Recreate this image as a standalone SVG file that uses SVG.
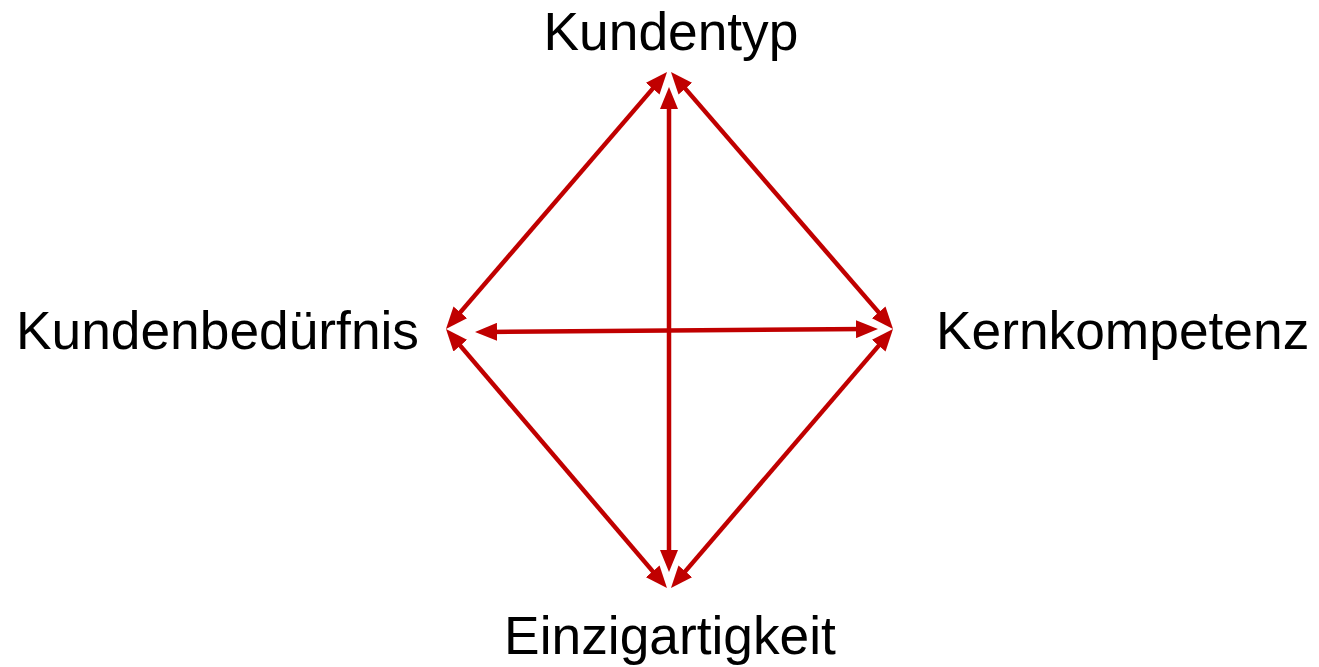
<svg xmlns="http://www.w3.org/2000/svg" width="1319" height="667" viewBox="0 0 1319 667">
<style>
.lbl{font-family:"Liberation Sans",Arial,sans-serif;font-size:53.3px;fill:#000}
.c{stroke:#C00000;stroke-width:4.5;fill:none}
</style>
<defs>
<marker id="ah" markerUnits="userSpaceOnUse" markerWidth="22" markerHeight="18" refX="10" refY="9" orient="auto-start-reverse" viewBox="0 0 22 18">
<path d="M0,0 L22,9 L0,18 Z" fill="#C00000"/>
</marker>
</defs>
<rect width="1319" height="667" fill="#fff"/>
<g id="connectors">
<line class="c" x1="453.8" y1="319.9" x2="659.2" y2="81.1" marker-start="url(#ah)" marker-end="url(#ah)"/>
<line class="c" x1="678.8" y1="81.1" x2="885.2" y2="319.9" marker-start="url(#ah)" marker-end="url(#ah)"/>
<line class="c" x1="453.8" y1="338.1" x2="659.2" y2="578.9" marker-start="url(#ah)" marker-end="url(#ah)"/>
<line class="c" x1="885.2" y1="338.1" x2="678.8" y2="578.9" marker-start="url(#ah)" marker-end="url(#ah)"/>
<line class="c" x1="669" y1="99" x2="669" y2="560" marker-start="url(#ah)" marker-end="url(#ah)"/>
<line class="c" x1="487" y1="331.9" x2="866" y2="329.1" marker-start="url(#ah)" marker-end="url(#ah)"/>
</g>
<g id="kundentyp"><text class="lbl" x="671" y="50" text-anchor="middle">Kundentyp</text></g>
<g id="kundenbeduerfnis"><text class="lbl" x="16" y="349">Kundenbedürfnis</text></g>
<g id="kernkompetenz"><text class="lbl" x="936" y="349">Kernkompetenz</text></g>
<g id="einzigartigkeit"><text class="lbl" x="670" y="654" text-anchor="middle">Einzigartigkeit</text></g>
</svg>
